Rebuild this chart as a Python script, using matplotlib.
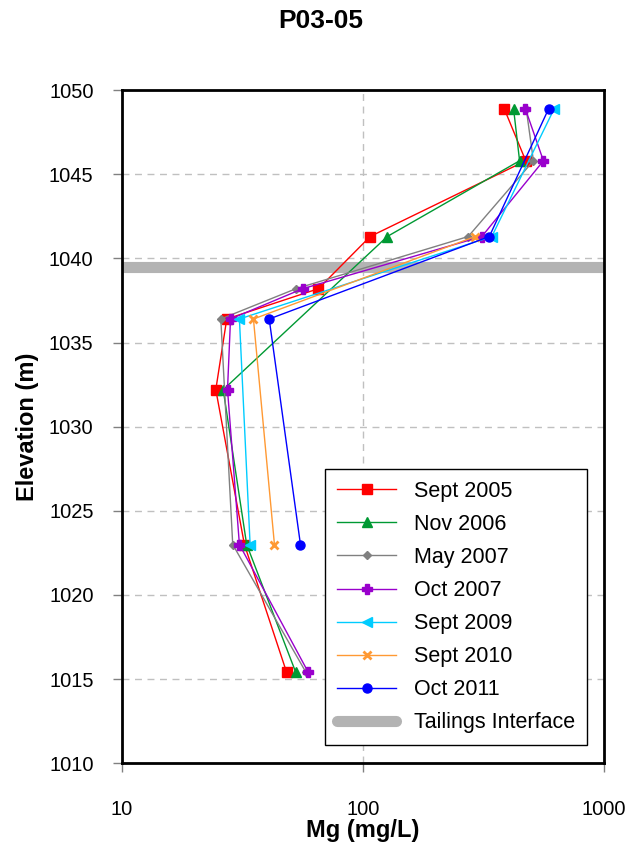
import numpy as np
import matplotlib.pyplot as plt

plt.rcParams['font.family'] = ['Liberation Sans', 'DejaVu Sans']

elev = [1048.9, 1045.8, 1041.3, 1038.2, 1036.4, 1032.2, 1023.0, 1015.4]

# Mg (mg/L) per sampling event, None where no sample
sept2005 = [385, 473, 107, 65.3, 27.2, 24.5, 32.2, 48.2]
nov2006 = [421, 446, 126, None, None, 26.3, 32.9, 52.6]
may2007 = [475, 509, 273, 52.7, 25.7, None, 28.8, 58.0]
oct2007 = [471, 560, 311, 56.2, 28.2, 27.4, 30.7, 59.3]
sept2009 = [621, None, 342, None, 30.7, None, 34.0, None]
sept2010 = [None, None, 292, None, 35.1, None, 42.9, None]
oct2011 = [589, None, 334, None, 40.8, None, 55.0, None]

labels = ["Sept 2005", "Nov 2006", "May 2007", "Oct 2007",
          "Sept 2009", "Sept 2010", "Oct 2011"]
series = [sept2005, nov2006, may2007, oct2007, sept2009, sept2010, oct2011]
colors = ['#ff0000', '#009933', '#808080', '#9900cc', '#00ccff', '#ff9933', '#0000ff']
markers = ['s', '^', 'D', 'P', '<', 'x', 'o']
msizes = [6.5, 6.5, 4.5, 6.5, 6.5, 5.5, 6.5]

interface = 1039.5

fig = plt.figure(figsize=(6.42, 8.5), dpi=100)
ax = fig.add_axes([0.190, 0.102, 0.751, 0.792])

for vals, lab, c, m, ms in zip(series, labels, colors, markers, msizes):
    x = [v for v in vals if v is not None]
    y = [e for e, v in zip(elev, vals) if v is not None]
    ax.plot(x, y, color=c, marker=m, markersize=ms, linewidth=1,
            markeredgewidth=2 if m == 'x' else 1, label=lab)

ax.axhline(interface, color='#b3b3b3', linewidth=8, solid_capstyle='round',
           label="Tailings Interface", zorder=1)

ax.set_xscale('log')
ax.set_xlim(10, 1000)
ax.set_ylim(1010, 1050)
ax.set_yticks(np.arange(1010, 1051, 5))
ax.set_xticks([10, 100, 1000])
ax.set_xticklabels(['10', '100', '1000'])
ax.minorticks_off()
ax.grid(True, color='#c0c0c0', linestyle=(0, (5, 4)), linewidth=1)
ax.set_axisbelow(True)
for s in ax.spines.values():
    s.set_linewidth(2)
ax.tick_params(axis='both', direction='out', length=6.5, width=1, color='#808080',
               labelsize=14.5)
ax.tick_params(axis='y', pad=14)
ax.tick_params(axis='x', pad=20)

ax.set_xlabel("Mg (mg/L)", fontsize=17, fontweight='bold', labelpad=0)
ax.set_ylabel("Elevation (m)", fontsize=17, fontweight='bold', labelpad=7)
fig.suptitle("P03-05", fontsize=19, fontweight='bold', y=0.99)

leg = ax.legend(loc='lower right', bbox_to_anchor=(0.965, 0.027), borderaxespad=0,
                fontsize=15.5, frameon=True, fancybox=False, edgecolor='black',
                framealpha=1, handlelength=2.75, handletextpad=0.84,
                labelspacing=0.56, borderpad=0.55)
leg.get_frame().set_linewidth(1)

fig.savefig("out.png", dpi=100)
